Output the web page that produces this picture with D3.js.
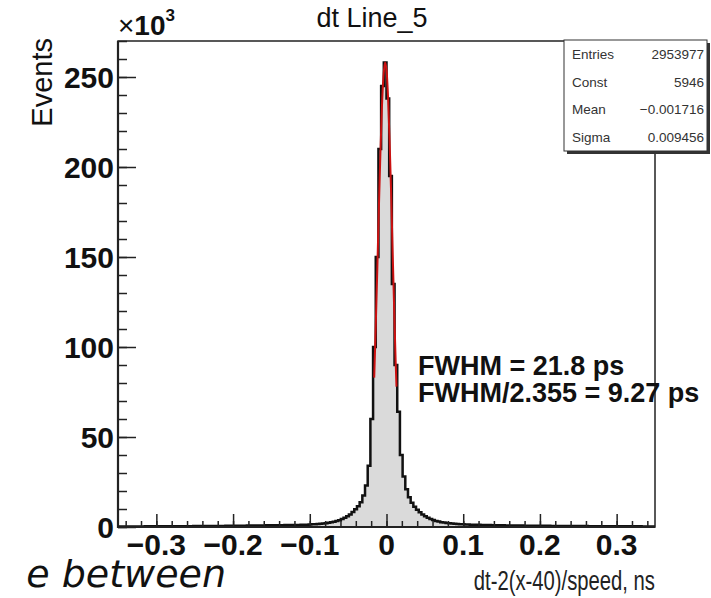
<!DOCTYPE html>
<html>
<head>
<meta charset="utf-8">
<script src="https://cdn.jsdelivr.net/npm/d3@7"></script>
<style>
    body { margin: 0; background: #fff; }
    svg { display: block; font-family: "Liberation Sans", Arial, sans-serif; }
</style>
</head>
<body>
<script>
// histogram definition: 200 bins from -0.35 to 0.35 ns, counts in thousands
const binLow = -0.35;
const binWidth = 0.0035;
const counts = [
    0.30, 0.30, 0.31, 0.31, 0.32, 0.32, 0.33, 0.33, 0.34, 0.34,
    0.35, 0.35, 0.36, 0.36, 0.37, 0.38, 0.38, 0.39, 0.40, 0.40,
    0.41, 0.42, 0.43, 0.44, 0.45, 0.46, 0.47, 0.48, 0.49, 0.50,
    0.51, 0.52, 0.53, 0.54, 0.55, 0.57, 0.58, 0.59, 0.61, 0.62,
    0.64, 0.65, 0.67, 0.69, 0.70, 0.72, 0.74, 0.76, 0.78, 0.80,
    0.82, 0.84, 0.86, 0.88, 0.90, 0.92, 0.94, 0.96, 0.98, 1.00,
    1.02, 1.04, 1.06, 1.08, 1.10, 1.12, 1.14, 1.17, 1.20, 1.23,
    1.31, 1.39, 1.48, 1.58, 1.70, 1.83, 1.98, 2.15, 2.35,
    2.6, 2.9, 3.3, 3.8, 4.4, 5.1, 6.0, 7.0, 8.3, 9.8,
    11.5, 13.8, 17.5, 23, 34, 60, 100, 150, 210, 245,
    258, 238, 195, 135, 90, 64, 40, 28, 21, 16.5,
    13.5, 11.3, 9.6, 8.2, 7.0, 6.0, 5.2, 4.5, 3.9, 3.4, 3.0,
    2.70, 2.45, 2.25, 2.07, 1.92, 1.79, 1.68, 1.58, 1.49, 1.41,
    1.36, 1.31, 1.27, 1.23, 1.19, 1.15, 1.12, 1.09, 1.06, 1.03,
    1.00, 0.97, 0.95, 0.92, 0.90, 0.88, 0.86, 0.84, 0.82, 0.80,
    0.78, 0.76, 0.75, 0.73, 0.72, 0.70, 0.69, 0.67, 0.66, 0.65,
    0.63, 0.62, 0.61, 0.60, 0.59, 0.58, 0.57, 0.56, 0.55, 0.54,
    0.53, 0.52, 0.51, 0.50, 0.49, 0.48, 0.47, 0.46, 0.45, 0.45,
    0.44, 0.43, 0.42, 0.42, 0.41, 0.40, 0.39, 0.39, 0.38, 0.37,
    0.37, 0.36, 0.36, 0.35, 0.35, 0.34, 0.34, 0.33, 0.33, 0.32
];

// gaussian fit curve (thousands)
const fitX = [-0.016, -0.014, -0.012, -0.010, -0.008, -0.006, -0.004, -0.002,
    0.000, 0.002, 0.004, 0.006, 0.008, 0.010, 0.012, 0.013];
const fitY = [83, 112, 143, 176, 207, 233, 250, 258,
    254, 239, 215, 186, 153, 121, 91, 78];

const xTicks = [-0.3, -0.2, -0.1, 0, 0.1, 0.2, 0.3];
const xTickLabels = ['\u22120.3', '\u22120.2', '\u22120.1', '0', '0.1', '0.2', '0.3'];
const yTicks = [0, 50, 100, 150, 200, 250];
const yTickLabels = ['0', '50', '100', '150', '200', '250'];

const statNames = ['Entries', 'Const', 'Mean', 'Sigma'];
const statValues = ['2953977', '5946', '\u22120.001716', '0.009456'];
const fwhmLines = ['FWHM = 21.8 ps', 'FWHM/2.355 = 9.27 ps'];

const width = 711;
const height = 598;
const frameLeft = 118;
const frameRight = 655;
const frameTop = 41;
const frameBottom = 527;

const svg = d3.select('body').append('svg')
    .attr('width', width)
    .attr('height', height);

const x = d3.scaleLinear()
    .domain([-0.35, 0.35])
    .range([frameLeft, frameRight]);

const y = d3.scaleLinear()
    .domain([0, 270])
    .range([frameBottom, frameTop]);

svg.append('clipPath').attr('id', 'frame-clip')
    .append('rect')
    .attr('x', frameLeft).attr('y', frameTop)
    .attr('width', frameRight - frameLeft).attr('height', frameBottom - frameTop);

// histogram steps
const bins = counts.map((c, i) => ({ lo: binLow + i * binWidth, c: c }));
const stepData = bins.concat([{ lo: binLow + counts.length * binWidth, c: counts[counts.length - 1] }]);

const plot = svg.append('g').attr('clip-path', 'url(#frame-clip)');

plot.append('path')
    .datum(stepData)
    .attr('fill', '#dadada')
    .attr('d', d3.area()
        .curve(d3.curveStepAfter)
        .x(d => x(d.lo))
        .y0(y(0))
        .y1(d => y(d.c)));

plot.append('path')
    .datum(stepData)
    .attr('fill', 'none')
    .attr('stroke', '#111')
    .attr('stroke-width', 2.5)
    .attr('d', d3.line()
        .curve(d3.curveStepAfter)
        .x(d => x(d.lo))
        .y(d => y(d.c)));

// fit curve
plot.append('path')
    .datum(fitX.map((v, i) => [v, fitY[i]]))
    .attr('fill', 'none')
    .attr('stroke', '#cc1111')
    .attr('stroke-width', 2)
    .attr('d', d3.line()
        .curve(d3.curveMonotoneX)
        .x(d => x(d[0]))
        .y(d => y(d[1])));

// frame
svg.append('rect')
    .attr('x', frameLeft).attr('y', frameTop)
    .attr('width', frameRight - frameLeft).attr('height', frameBottom - frameTop)
    .attr('fill', 'none')
    .attr('stroke', '#222')
    .attr('stroke-width', 1.5);
svg.append('path')
    .attr('d', `M${frameLeft},${frameTop}V${frameBottom}H${frameRight}`)
    .attr('fill', 'none')
    .attr('stroke', '#222')
    .attr('stroke-width', 2.2);

// x axis ticks (inside)
const xMinor = d3.range(-17, 18).map(i => i * 0.02).filter(v => Math.abs(v) <= 0.35);
svg.append('g')
    .attr('transform', `translate(0, ${frameBottom})`)
    .call(d3.axisTop(x).tickValues(xMinor).tickSize(6).tickFormat(''))
    .call(g => g.select('.domain').remove())
    .call(g => g.selectAll('line').attr('stroke', '#222').attr('stroke-width', 1.5));

svg.append('g')
    .attr('transform', `translate(0, ${frameBottom})`)
    .call(d3.axisTop(x).tickValues(xTicks).tickSize(13).tickFormat(''))
    .call(g => g.select('.domain').remove())
    .call(g => g.selectAll('line').attr('stroke', '#222').attr('stroke-width', 1.5));

svg.append('g')
    .selectAll('text')
    .data(xTicks)
    .enter()
    .append('text')
    .attr('x', d => x(d))
    .attr('y', 555)
    .attr('text-anchor', 'middle')
    .attr('font-size', 30)
    .attr('font-weight', 'bold')
    .attr('fill', '#111')
    .text((d, i) => xTickLabels[i]);

// y axis ticks (inside)
const yMinor = d3.range(0, 271, 10);
svg.append('g')
    .attr('transform', `translate(${frameLeft}, 0)`)
    .call(d3.axisRight(y).tickValues(yMinor).tickSize(9).tickFormat(''))
    .call(g => g.select('.domain').remove())
    .call(g => g.selectAll('line').attr('stroke', '#222').attr('stroke-width', 1.5));

svg.append('g')
    .attr('transform', `translate(${frameLeft}, 0)`)
    .call(d3.axisRight(y).tickValues(yTicks).tickSize(18).tickFormat(''))
    .call(g => g.select('.domain').remove())
    .call(g => g.selectAll('line').attr('stroke', '#222').attr('stroke-width', 1.5));

svg.append('g')
    .selectAll('text')
    .data(yTicks)
    .enter()
    .append('text')
    .attr('x', 114)
    .attr('y', d => y(d) + 11)
    .attr('text-anchor', 'end')
    .attr('font-size', 30)
    .attr('font-weight', 'bold')
    .attr('fill', '#111')
    .text((d, i) => yTickLabels[i]);

// x10^3 exponent
const expo = svg.append('text')
    .attr('x', frameLeft)
    .attr('y', 35)
    .attr('font-size', 28)
    .attr('fill', '#111');
expo.append('tspan').text('\u00d7');
expo.append('tspan').attr('font-weight', 'bold').text('10');
expo.append('tspan').attr('font-size', 17).attr('dy', -14).attr('font-weight', 'bold').text('3');

// title
svg.append('text')
    .attr('x', 372)
    .attr('y', 27)
    .attr('text-anchor', 'middle')
    .attr('font-size', 27)
    .attr('fill', '#111')
    .text('dt Line_5');

// axis titles
svg.append('text')
    .attr('transform', 'translate(52, 38) rotate(-90)')
    .attr('text-anchor', 'end')
    .attr('font-size', 29)
    .attr('fill', '#111')
    .text('Events');

svg.append('text')
    .attr('transform', `translate(${frameRight}, 590) scale(0.75, 1)`)
    .attr('text-anchor', 'end')
    .attr('font-size', 27)
    .attr('fill', '#222')
    .text('dt-2(x-40)/speed, ns');

// stats box
const boxX = 564, boxY = 40, boxW = 143, boxH = 111;
svg.append('rect')
    .attr('x', boxX + 3).attr('y', boxY + 3)
    .attr('width', boxW).attr('height', boxH)
    .attr('fill', '#333');
svg.append('rect')
    .attr('x', boxX).attr('y', boxY)
    .attr('width', boxW).attr('height', boxH)
    .attr('fill', '#fff')
    .attr('stroke', '#333')
    .attr('stroke-width', 1);

const rowBase = [59, 87, 114, 142];
svg.append('g')
    .selectAll('text')
    .data(statNames)
    .enter()
    .append('text')
    .attr('x', boxX + 8)
    .attr('y', (d, i) => rowBase[i])
    .attr('font-size', 13.5)
    .attr('fill', '#333')
    .text(d => d);

svg.append('g')
    .selectAll('text')
    .data(statValues)
    .enter()
    .append('text')
    .attr('x', boxX + boxW - 3)
    .attr('y', (d, i) => rowBase[i])
    .attr('text-anchor', 'end')
    .attr('font-size', 13.5)
    .attr('fill', '#333')
    .text(d => d);

// FWHM annotation
svg.append('g')
    .selectAll('text')
    .data(fwhmLines)
    .enter()
    .append('text')
    .attr('x', 418)
    .attr('y', (d, i) => 375 + i * 27)
    .attr('font-size', 27)
    .attr('font-weight', 'bold')
    .attr('fill', '#111')
    .text(d => d);

// cut-off caption text at bottom left
svg.append('text')
    .attr('x', 226)
    .attr('y', 587)
    .attr('text-anchor', 'end')
    .attr('font-family', '"DejaVu Sans", sans-serif')
    .attr('font-style', 'italic')
    .attr('font-size', 38)
    .attr('fill', '#111')
    .text('e between');
</script>
</body>
</html>
